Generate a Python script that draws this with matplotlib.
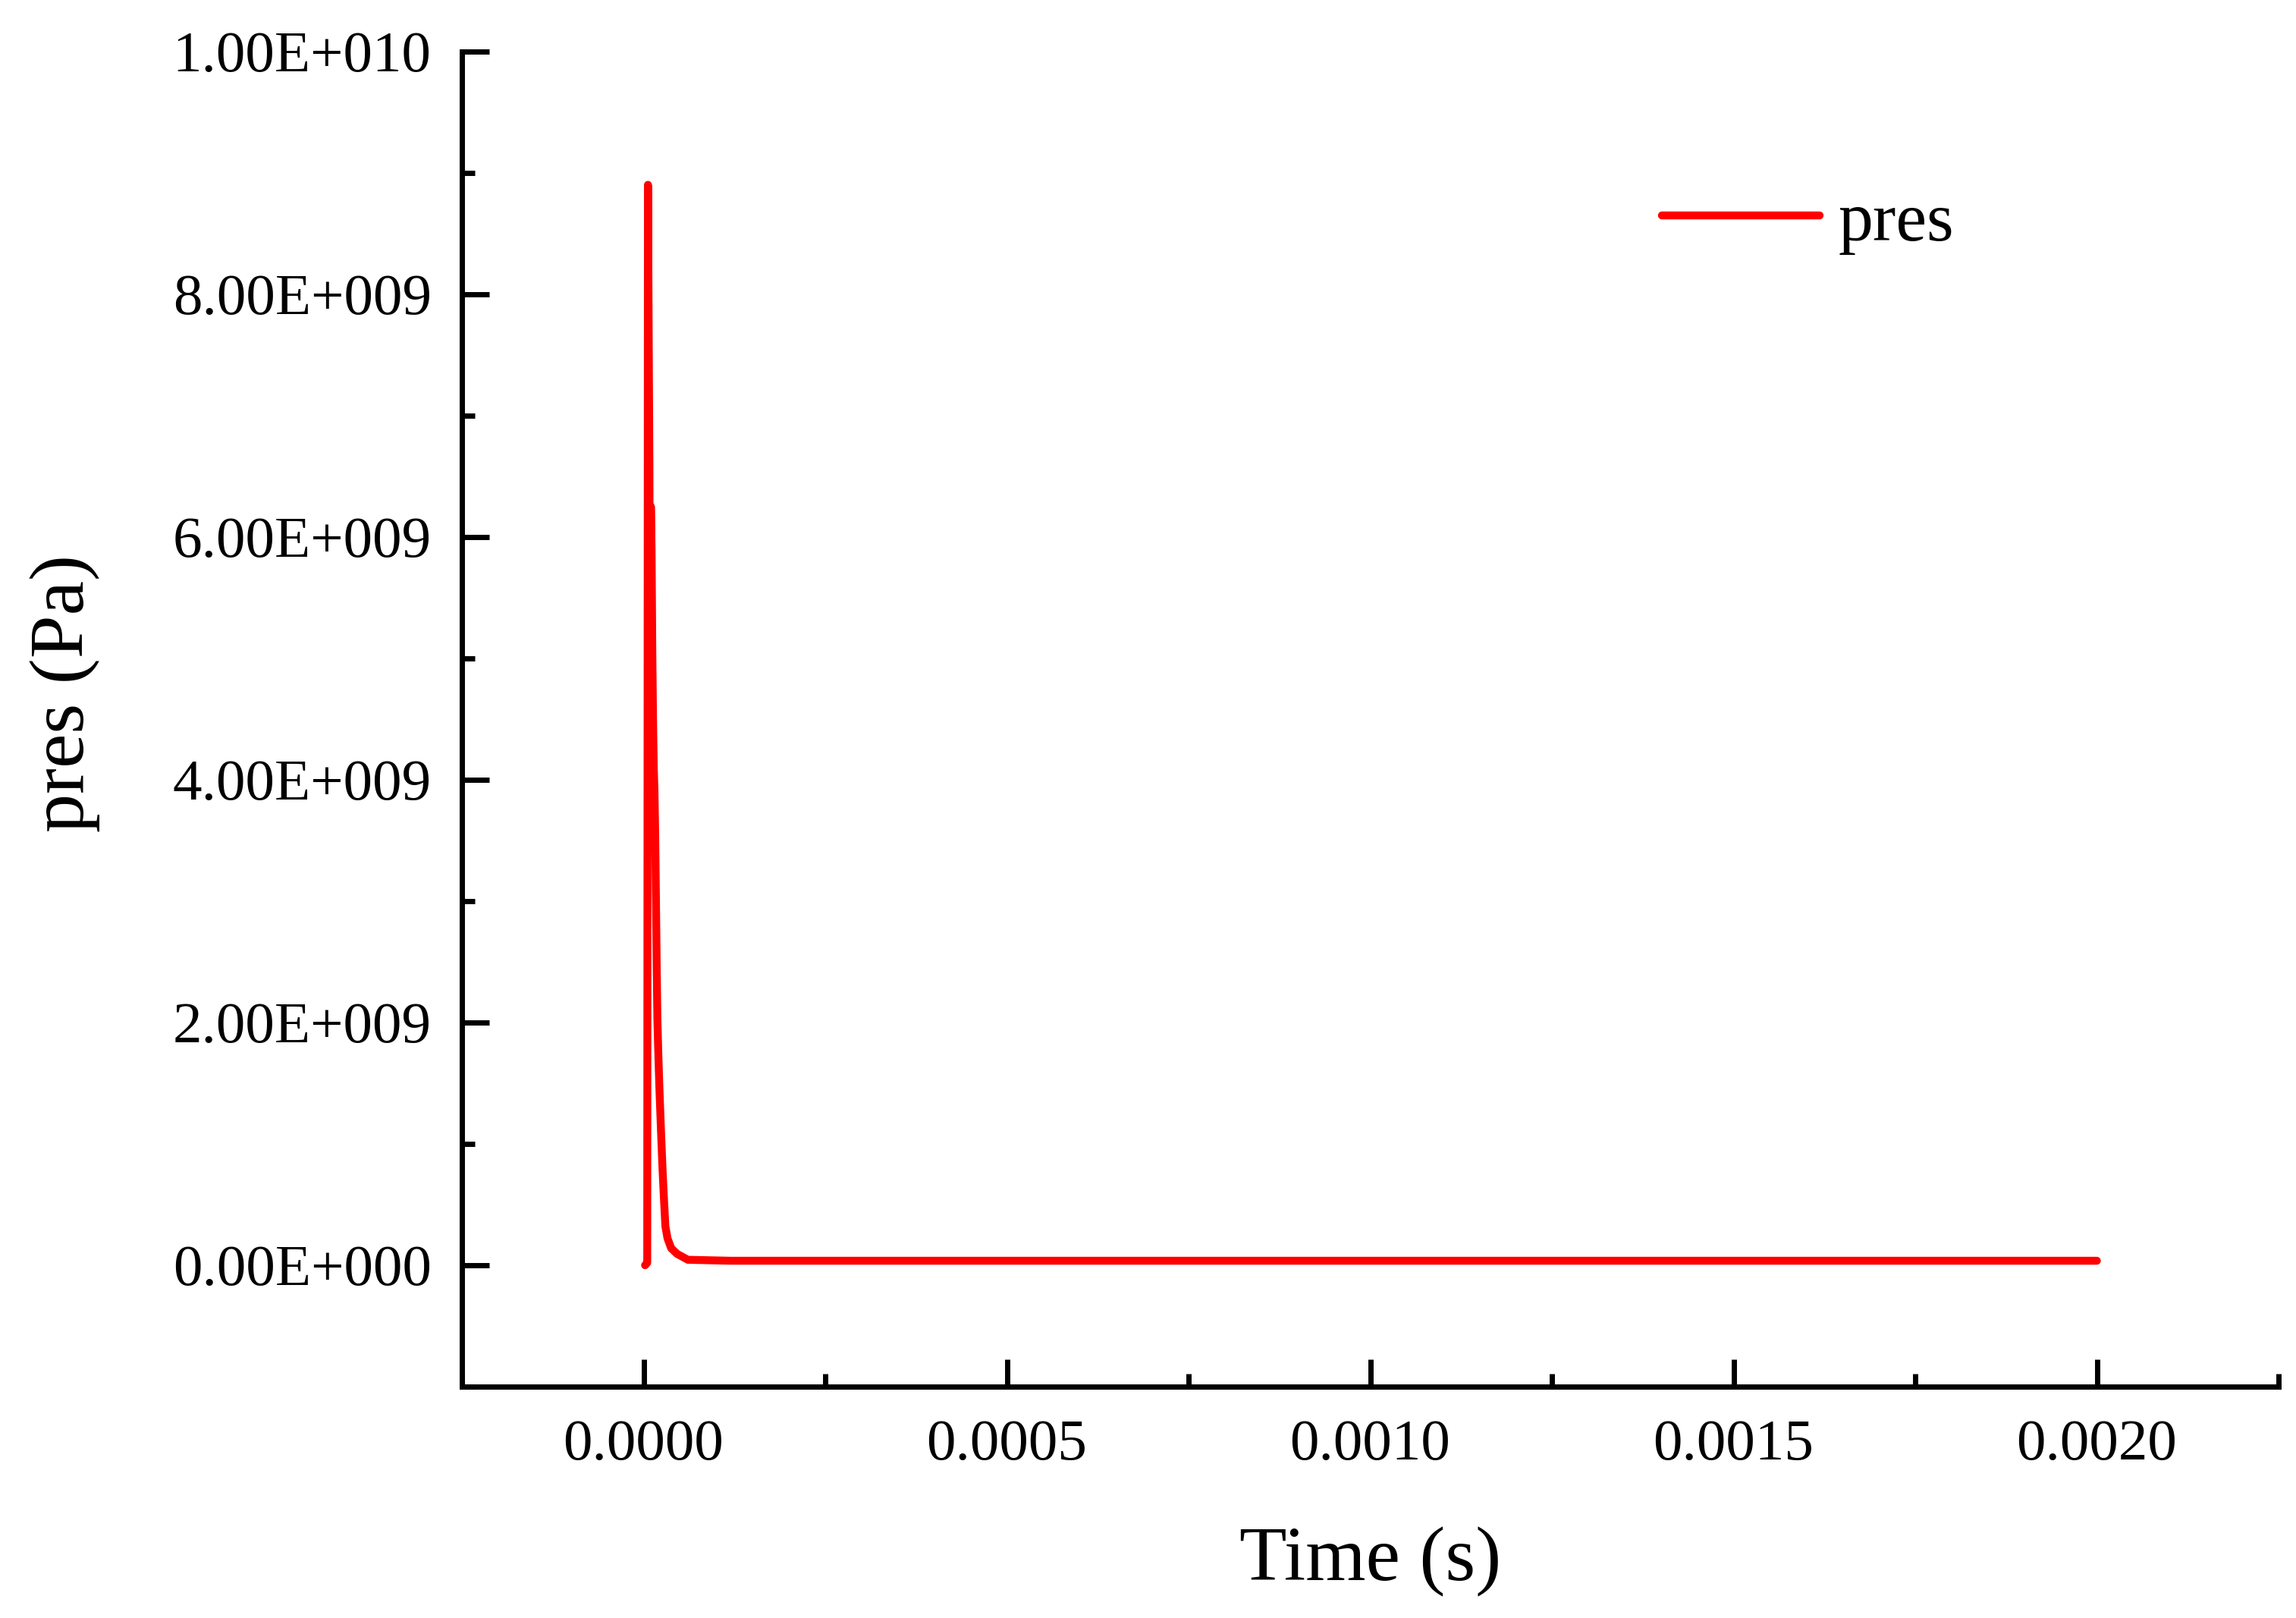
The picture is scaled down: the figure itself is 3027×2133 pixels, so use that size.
import matplotlib
matplotlib.use("Agg")
import matplotlib.pyplot as plt
from matplotlib.ticker import MultipleLocator, FuncFormatter

# pressure history (time in s, pressure in Pa)
time_us = [2, 5, 6, 7, 8, 9, 10, 11, 12, 13, 14, 15, 16, 17, 18, 19, 20, 21, 22,
           24, 26, 28, 30, 33, 38, 46, 61, 120, 2000]
pres_gpa = [0.0, 0.02, 8.9, 7.7, 6.6, 4.4, 6.25, 5.9, 5.05, 4.5, 4.1, 3.9, 3.54,
            3.01, 2.48, 2.03, 1.8, 1.6, 1.42, 1.1, 0.8, 0.55, 0.32, 0.22, 0.14,
            0.094, 0.045, 0.037, 0.037]

time_s = [t * 1e-6 for t in time_us]
pres_pa = [p * 1e9 for p in pres_gpa]

x_label = "Time (s)"
y_label = "pres (Pa)"
series_name = "pres"

plt.rcParams["font.family"] = ["Liberation Serif", "DejaVu Serif"]

W, H = 3027, 2133
fig = plt.figure(figsize=(W / 100, H / 100), dpi=100)
ax = fig.add_axes([609 / W, 1 - 1828 / H, (3004 - 609) / W, (1828 - 67.6) / H])

ax.plot(time_s, pres_pa, color="#ff0000", lw=7.5, solid_capstyle="round",
        solid_joinstyle="round", label=series_name)

ax.set_xlim(-0.00025, 0.00225)
ax.set_ylim(-1e9, 1e10)

# Origin style axes: only left and bottom, ticks pointing in
ax.spines["top"].set_visible(False)
ax.spines["right"].set_visible(False)
for s in ("left", "bottom"):
    ax.spines[s].set_linewidth(5)
    ax.spines[s].set_capstyle("projecting")

ax.xaxis.set_major_locator(MultipleLocator(0.0005))
ax.xaxis.set_minor_locator(MultipleLocator(0.00025))
ax.yaxis.set_major_locator(MultipleLocator(2e9))
ax.yaxis.set_minor_locator(MultipleLocator(1e9))


def sci_fmt(v, pos):
    if abs(v) < 1e-3:
        return "0.00E+000"
    s = "%.2E" % v
    mant, exp = s.split("E")
    e = int(exp)
    return "%sE%s%03d" % (mant, "+" if e >= 0 else "-", abs(e))


ax.yaxis.set_major_formatter(FuncFormatter(sci_fmt))
ax.xaxis.set_major_formatter(FuncFormatter(lambda v, pos: "%.4f" % v))

ax.tick_params(which="major", direction="in", length=26, width=5,
               labelsize=55.5, colors="black")
ax.tick_params(which="minor", direction="in", length=12, width=5)
ax.tick_params(axis="x", which="major", pad=31)
ax.tick_params(axis="y", which="major", pad=29)

ax.set_xlabel(x_label, fontsize=73.5)
ax.set_ylabel(y_label, fontsize=73.5)
ax.xaxis.set_label_coords(0.5, -0.105)
ax.yaxis.set_label_coords(-0.199, 0.519)

ax.legend(loc="center left", bbox_to_anchor=(2191 / W, 1 - 294 / H),
          bbox_transform=fig.transFigure, frameon=False, fontsize=66,
          borderpad=0, borderaxespad=0, handlelength=2.27, handletextpad=0.27)

fig.savefig("out.png", dpi=100, facecolor="white")
plt.close(fig)
